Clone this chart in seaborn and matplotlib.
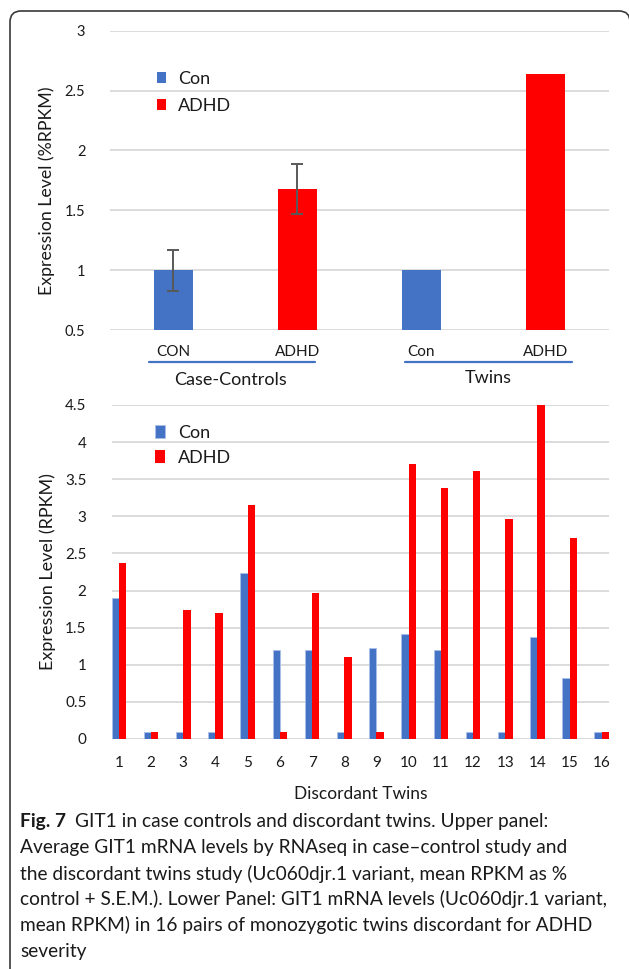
import numpy as np
import pandas as pd
import matplotlib
matplotlib.use("Agg")
import matplotlib.pyplot as plt
import matplotlib.transforms as mtransforms
from matplotlib.patches import FancyBboxPatch
import seaborn as sns

# ---- data ----
top_bars = ["CC CON", "CC ADHD", "Tw Con", "Tw ADHD"]
top_labels = ["CON", "ADHD", "Con", "ADHD"]
top_series = ["Con", "ADHD", "Con", "ADHD"]
top_values = [1.0, 1.68, 1.0, 2.64]
top_sem = [0.17, 0.21]
top_groups = ["Case-Controls", "Twins"]

twins = [str(i) for i in range(1, 17)]
con_vals = [1.90, 0.10, 0.10, 0.10, 2.24, 1.20, 1.20, 0.10,
            1.23, 1.42, 1.20, 0.10, 0.10, 1.37, 0.82, 0.10]
adhd_vals = [2.37, 0.10, 1.74, 1.70, 3.15, 0.10, 1.97, 1.10,
             0.10, 3.70, 3.38, 3.61, 2.96, 4.50, 2.71, 0.10]

caption = [
    "GIT1 in case controls and discordant twins. Upper panel:",
    "Average GIT1 mRNA levels by RNAseq in case\u2013control study and",
    "the discordant twins study (Uc060djr.1 variant, mean RPKM as %",
    "control + S.E.M.). Lower Panel: GIT1 mRNA levels (Uc060djr.1 variant,",
    "mean RPKM) in 16 pairs of monozygotic twins discordant for ADHD",
    "severity",
]

BLUE = "#4472C4"
RED = "#FF0000"
pal = {"Con": BLUE, "ADHD": RED}

sns.set_theme(style="white")
plt.rcParams["font.family"] = ["Lato", "DejaVu Sans"]
plt.rcParams["text.color"] = "#1a1a1a"

fig = plt.figure(figsize=(6.29, 9.69), dpi=100)
ax1 = fig.add_axes([0.1755, 0.6594, 0.792, 0.309])
ax2 = fig.add_axes([0.1774, 0.2374, 0.791, 0.3447])

# ===== upper panel =====
df_top = pd.DataFrame({"bar": top_bars, "series": top_series, "value": top_values})
sns.barplot(df_top, x="bar", y="value", hue="series", hue_order=["Con", "ADHD"],
            palette=pal, saturation=1, dodge=False, width=0.32, ax=ax1, zorder=2)
for p in ax1.patches:
    p.set_linewidth(0)
ax1.errorbar([0, 1], top_values[:2], yerr=top_sem, fmt="none", ecolor="#595959",
             elinewidth=1.4, capsize=4, capthick=1.4, zorder=3)
ax1.set_ylim(0.5, 3)
ax1.set_xlim(-0.508, 3.508)
ax1.set_yticks(np.arange(0.5, 3.01, 0.5))
ax1.set_yticklabels(["0.5", "1", "1.5", "2", "2.5", "3"])
ax1.set_xticks(range(4))
ax1.set_xticklabels(top_labels)
ax1.tick_params(axis="x", length=0, pad=11, labelsize=11, labelcolor="#1a1a1a")
ax1.tick_params(axis="y", length=0, pad=18, labelsize=10.5, labelcolor="#1a1a1a")
ax1.yaxis.grid(True, color="#D9D9D9", lw=1.3, zorder=0)
ax1.set_axisbelow(True)
sns.despine(ax=ax1, left=True, bottom=True)
ax1.set_xlabel("")
ax1.set_ylabel("Expression Level (%RPKM)", fontsize=12.8, color="#1a1a1a")
ax1.yaxis.set_label_coords(-0.112, 0.465)

tr1 = mtransforms.blended_transform_factory(ax1.transData, ax1.transAxes)
for (x0, x1), (xc, yc), g in zip([(-0.2, 1.14), (1.87, 3.21)],
                                 [(0.46, -0.167), (2.54, -0.16)], top_groups):
    ax1.plot([x0, x1], [-0.107, -0.107], color=BLUE, lw=1.6, transform=tr1, clip_on=False)
    ax1.text(xc, yc, g, transform=tr1, ha="center", va="center", fontsize=13)

leg1 = ax1.legend(loc="upper left", bbox_to_anchor=(0.06, 0.92), frameon=False,
                  fontsize=13, handlelength=0.5, handleheight=0.6, handletextpad=0.7,
                  labelspacing=0.6)

# ===== lower panel =====
df_bot = pd.DataFrame({
    "twin": twins * 2,
    "series": ["Con"] * len(twins) + ["ADHD"] * len(twins),
    "value": con_vals + adhd_vals,
})
sns.barplot(df_bot, x="twin", y="value", hue="series", hue_order=["Con", "ADHD"],
            palette=pal, saturation=1, width=0.455, ax=ax2, zorder=2)
for p in ax2.patches:
    if p.get_facecolor()[2] > 0.5:
        p.set_edgecolor("#A9C0E8")
        p.set_linewidth(0.6)
    else:
        p.set_linewidth(0)
ax2.set_ylim(0, 4.5)
ax2.set_xlim(-0.2275, 15.2275)
ax2.set_yticks(np.arange(0, 4.51, 0.5))
ax2.set_yticklabels(["0", "0.5", "1", "1.5", "2", "2.5", "3", "3.5", "4", "4.5"])
ax2.tick_params(axis="x", length=0, pad=12, labelsize=11, labelcolor="#1a1a1a")
ax2.tick_params(axis="y", length=0, pad=18, labelsize=11, labelcolor="#1a1a1a")
ax2.yaxis.grid(True, color="#D9D9D9", lw=1.3, zorder=0)
ax2.set_axisbelow(True)
sns.despine(ax=ax2, left=True, bottom=True)
ax2.set_xlabel("Discordant Twins", fontsize=12.5, labelpad=12, color="#1a1a1a")
ax2.set_ylabel("Expression Level (RPKM)", fontsize=13, color="#1a1a1a")
ax2.yaxis.set_label_coords(-0.112, 0.5)

leg2 = ax2.legend(loc="upper left", bbox_to_anchor=(0.055, 0.99), frameon=False,
                  fontsize=13, handlelength=0.55, handleheight=0.75, handletextpad=0.7,
                  labelspacing=0.5)

# ===== caption =====
y0 = 1 - 822 / 969
dy = 25.8 / 969
cap_fs = 13.8
renderer = fig.canvas.get_renderer()
fig_lbl = fig.text(0.032, y0, "Fig. 7", fontsize=cap_fs, fontweight="bold",
                   va="center", ha="left")
bb = fig_lbl.get_window_extent(renderer)
fig.text((bb.x1 + 9) / fig.bbox.width, y0, caption[0], fontsize=cap_fs,
         va="center", ha="left")
for i, line in enumerate(caption[1:], 1):
    fig.text(0.032, y0 - i * dy, line, fontsize=cap_fs, va="center", ha="left")

# rounded frame around the figure
frame = FancyBboxPatch((10, -30), 620, 969 - 11 + 30,
                       boxstyle="round,pad=0,rounding_size=11",
                       transform=mtransforms.IdentityTransform(),
                       facecolor="none", edgecolor="#3a3a3a", lw=1.2)
fig.add_artist(frame)

fig.savefig("out.png", dpi=100)
